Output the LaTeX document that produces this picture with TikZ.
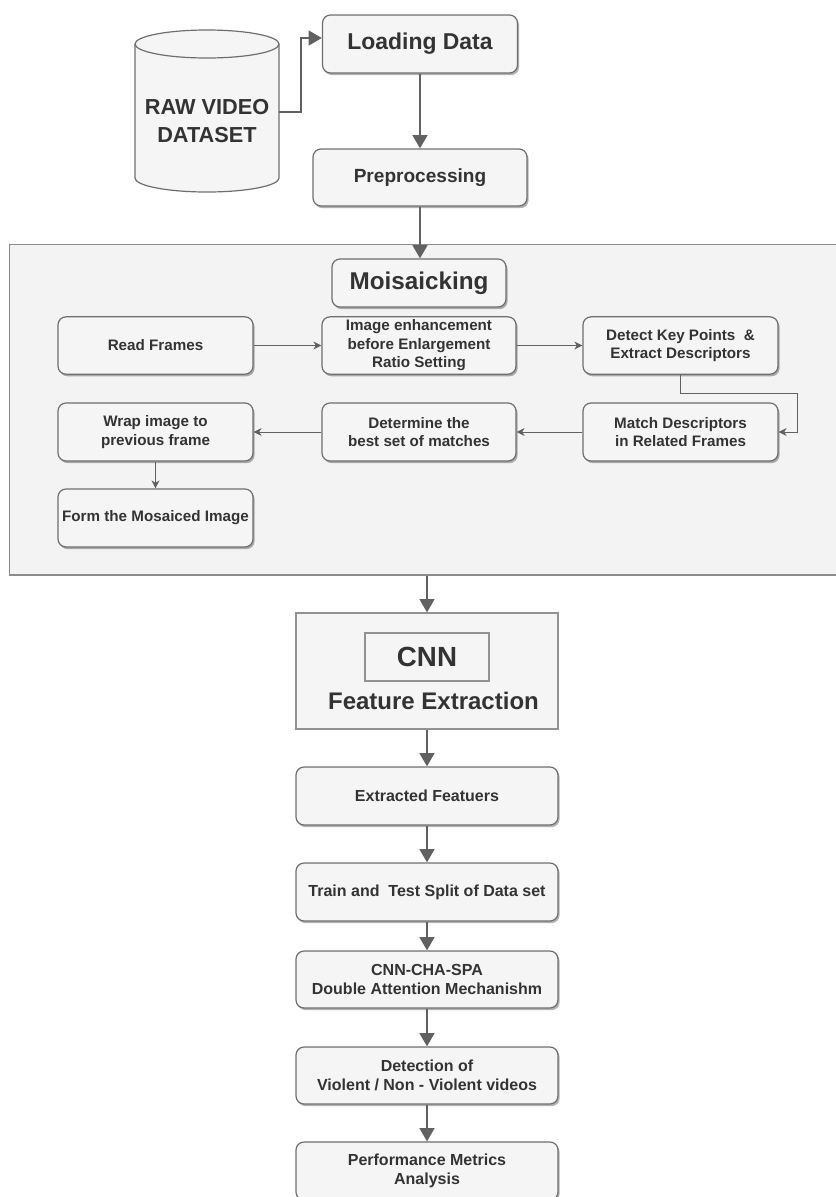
\documentclass[tikz,border=0pt]{standalone}
\usepackage{fontspec}
\setmainfont{Liberation Sans}
\usetikzlibrary{arrows.meta,shadows}
\definecolor{boxfill}{HTML}{F5F5F5}
\definecolor{panelfill}{HTML}{F3F3F3}
\definecolor{edge}{HTML}{6E6E6E}
\definecolor{ink}{HTML}{333333}
\definecolor{wire}{HTML}{616161}
\begin{document}
\begin{tikzpicture}[x=0.75pt, y=-0.75pt,
  box/.style={draw=edge, fill=boxfill, rounded corners=6pt, line width=0.9pt, text=ink, align=center, inner sep=1pt,
    drop shadow={shadow xshift=1.2pt, shadow yshift=-1.6pt, opacity=0.3, fill=black}},
  plainbox/.style={draw=edge!75, fill=boxfill, line width=0.9pt, text=ink, align=center, inner sep=1pt},
  small/.style={font=\fontsize{11.4}{13.9}\selectfont\bfseries},
  mid/.style={font=\fontsize{12}{14.3}\selectfont\bfseries},
  flow/.style={draw=wire, line width=2pt, -{Triangle[width=11pt,length=10pt]}},
  thinflow/.style={draw=wire, line width=0.75pt, -{Stealth[width=6pt,length=6pt,inset=1.8pt]}}]
        \useasboundingbox (0,0) rectangle (836,1197);
        % input data
        \draw[draw=edge, fill=boxfill, line width=0.9pt] (135,44) -- (135,178)
          arc[start angle=180, end angle=360, x radius=54pt, y radius=10.5pt] -- (279,44)
          arc[start angle=0, end angle=180, x radius=54pt, y radius=10.5pt] -- cycle;
        \draw[draw=edge, line width=0.9pt] (135,44) arc[start angle=180, end angle=360, x radius=54pt, y radius=10.5pt];
        \node[text=ink, align=center, font=\fontsize{16.3}{20.6}\selectfont\bfseries] (raw) at (207,121) {RAW VIDEO\\DATASET};
        \coordinate (rawout) at (279,112);
        \node[box, font=\fontsize{17.2}{20}\selectfont\bfseries, minimum width=146.25pt, minimum height=43.5pt] (load) at (420,44) {Loading Data};
        \node[box, font=\fontsize{14.3}{17}\selectfont\bfseries, minimum width=160.5pt, minimum height=42.75pt] (prep) at (420,177.5) {Preprocessing};
        % mosaicking panel
        \node[draw=edge!80, fill=panelfill, line width=0.9pt, minimum width=622.9pt, minimum height=247.9pt, inner sep=0pt] (panel) at (424.75,409.75) {};
        \node[box, font=\fontsize{18.2}{21}\selectfont\bfseries, minimum width=130.5pt, minimum height=36pt] (mosaic) at (419,283) {Moisaicking};
        \node[box, small, minimum width=146.25pt, minimum height=43pt] (read) at (155.5,345.5) {Read Frames};
        \node[box, small, minimum width=145.5pt, minimum height=43pt] (enh) at (419,345.5) {Image enhancement\\before Enlargement\\Ratio Setting};
        \node[box, small, minimum width=146.25pt, minimum height=43pt] (det) at (680.5,345.5) {Detect Key Points~ \&\\Extract Descriptors};
        \node[box, small, minimum width=146.25pt, minimum height=43.5pt] (wrap) at (155.5,432) {Wrap image to\\previous frame};
        \node[box, small, minimum width=145.5pt, minimum height=43.5pt] (best) at (419,432) {Determine the\\best set of matches};
        \node[box, small, minimum width=146.25pt, minimum height=43.5pt] (match) at (680.5,432) {Match Descriptors\\in Related Frames};
        \node[box, small, minimum width=146.25pt, minimum height=43.5pt] (form) at (155.5,518) {Form the Mosaiced Image};
        % feature extraction
        \node[plainbox, minimum width=196.5pt, minimum height=87pt] (featbox) at (427,671) {};
        \node[plainbox, font=\fontsize{20.8}{24}\selectfont\bfseries, minimum width=93pt, minimum height=36pt] (cnn) at (427,657) {CNN};
        \node[text=ink, font=\fontsize{18}{21}\selectfont\bfseries] (feat) at (433.5,701) {Feature Extraction};
        % classification
        \node[box, mid, minimum width=196.5pt, minimum height=43.5pt] (extr) at (427,796) {Extracted Featuers};
        \node[box, mid, minimum width=196.5pt, minimum height=43.5pt] (split) at (427,892) {Train and~ Test Split of Data set};
        \node[box, mid, minimum width=196.5pt, minimum height=42.75pt] (attn) at (427,979.5) {CNN-CHA-SPA\\Double Attention Mechanishm};
        \node[box, mid, minimum width=196.5pt, minimum height=42.75pt] (detect) at (427,1075.5) {Detection of\\Violent / Non - Violent videos};
        \node[box, mid, minimum width=196.5pt, minimum height=43.5pt] (perf) at (427,1171) {Performance Metrics\\Analysis};
        % connectors
        \draw[flow] (rawout) -- ++(22,0) |- ([yshift=4.5pt]load.west);
        \draw[flow] (load) -- (prep);
        \draw[flow] (prep.south) -- (prep.south |- mosaic.north);
        \draw[thinflow] (read) -- (enh);
        \draw[thinflow] (enh) -- (det);
        \draw[thinflow] (det.south) -- ++(0,19) -| ([xshift=14.25pt]match.east) -- (match.east);
        \draw[thinflow] (match) -- (best);
        \draw[thinflow] (best) -- (wrap);
        \draw[thinflow] (wrap) -- (form);
        \draw[flow] (featbox.north |- panel.south) -- (featbox.north);
        \draw[flow] (featbox) -- (extr);
        \draw[flow] (extr) -- (split);
        \draw[flow] (split) -- (attn);
        \draw[flow] (attn) -- (detect);
        \draw[flow] (detect) -- (perf);
\end{tikzpicture}
\end{document}
